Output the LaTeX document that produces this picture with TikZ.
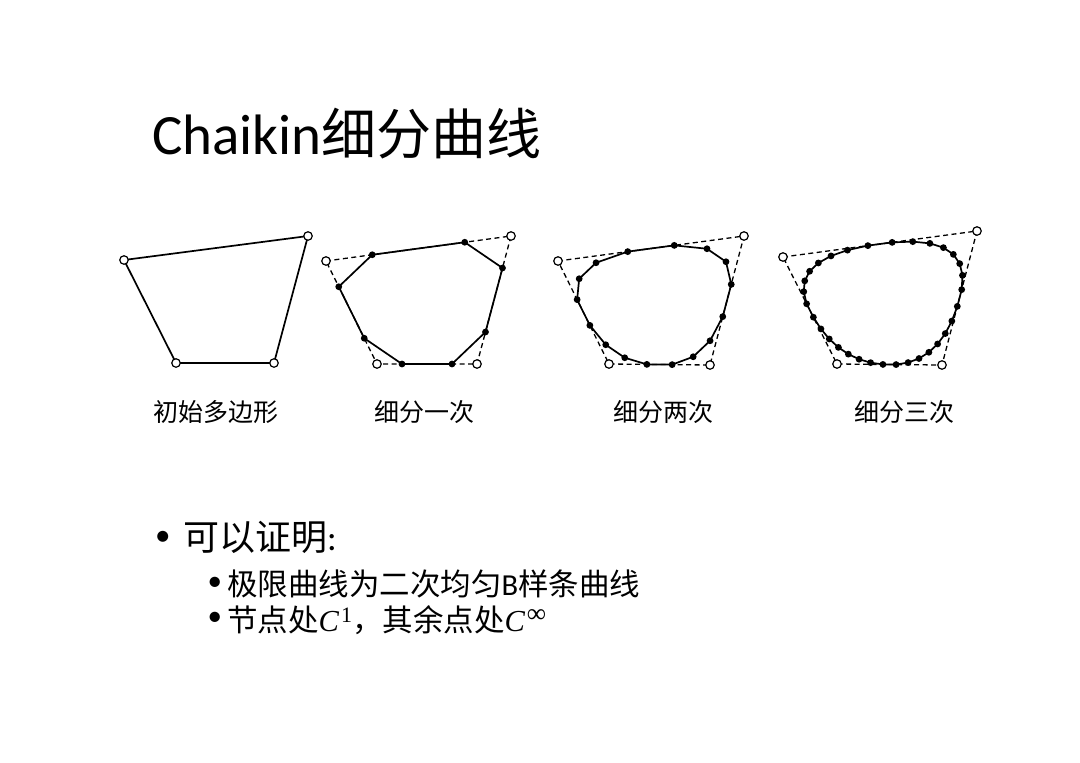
\documentclass[tikz,border=0pt]{standalone}
\usepackage{fontspec}
\setmainfont{Carlito}
\newfontfamily\cjk{Noto Sans CJK SC}
\newfontfamily\cmfont{Liberation Serif}
\usetikzlibrary{calc}

% one Chaikin corner-cutting step: #1 source prefix, #2 number of points, #3 target prefix
\newcommand\chaikinstep[3]{%
  \pgfmathtruncatemacro\chklast{#2-1}%
  \foreach \i in {0,...,\chklast}{%
    \pgfmathtruncatemacro\chkj{mod(\i+1,#2)}%
    \pgfmathtruncatemacro\chka{2*\i}%
    \pgfmathtruncatemacro\chkb{2*\i+1}%
    \coordinate (#3-\chka) at ($(#1-\i)!0.25!(#1-\chkj)$);
    \coordinate (#3-\chkb) at ($(#1-\i)!0.75!(#1-\chkj)$);
  }%
}
\newcommand\mathC[2]{{\cmfont\itshape C}\kern2pt\raisebox{9pt}{\cmfont\fontsize{#2}{24}\selectfont #1}}

\tikzset{
  ctrlpt/.style={circle,draw,fill=white,line width=1.2pt,minimum size=8.5pt,inner sep=0pt},
  dotpt/.style={circle,fill=black,minimum size=6.8pt,inner sep=0pt},
  curveline/.style={line width=1.7pt,line join=round},
  ctrlpoly/.style={line width=1.3pt,dash pattern=on 5pt off 3.5pt},
  caption/.style={font=\cjk\fontsize{25}{30}\selectfont,inner sep=0pt},
  textline/.style={anchor=base west,inner sep=0pt},
}

\begin{document}
\begin{tikzpicture}[x=1pt,y=-1pt]
\useasboundingbox[fill=white] (0,0) rectangle (1080,763);

% ---------- title ----------
\node[textline,font=\fontsize{57}{62}\selectfont] (title) at (152,154) {Chaikin{\cjk\fontsize{55}{60}\selectfont 细分曲线}};

% ---------- polygon 1: initial ----------
\coordinate (A-0) at (124,260);
\coordinate (A-1) at (308,236);
\coordinate (A-2) at (274,363);
\coordinate (A-3) at (176,363);
\draw[curveline] (A-0) -- (A-1) -- (A-2) -- (A-3) -- cycle;
\foreach \k in {0,...,3} \node[ctrlpt] (a-\k) at (A-\k) {};

% ---------- polygon 2: one step ----------
\coordinate (B-0) at (326,261);
\coordinate (B-1) at (511,236);
\coordinate (B-2) at (477,364);
\coordinate (B-3) at (377,364);
\chaikinstep{B}{4}{Ba}
\draw[ctrlpoly] (B-0) -- (B-1) -- (B-2) -- (B-3) -- cycle;
\draw[curveline] (Ba-0) \foreach \k in {1,...,7}{ -- (Ba-\k)} -- cycle;
\foreach \k in {0,...,7} \node[dotpt] (ba-\k) at (Ba-\k) {};
\foreach \k in {0,...,3} \node[ctrlpt] (b-\k) at (B-\k) {};

% ---------- polygon 3: two steps ----------
\coordinate (C-0) at (558,261);
\coordinate (C-1) at (744,236);
\coordinate (C-2) at (710,365);
\coordinate (C-3) at (609,364);
\chaikinstep{C}{4}{Ca}
\chaikinstep{Ca}{8}{Cb}
\draw[ctrlpoly] (C-0) -- (C-1) -- (C-2) -- (C-3) -- cycle;
\draw[curveline] (Cb-0) \foreach \k in {1,...,15}{ -- (Cb-\k)} -- cycle;
\foreach \k in {0,...,15} \node[dotpt] (cb-\k) at (Cb-\k) {};
\foreach \k in {0,...,3} \node[ctrlpt] (c-\k) at (C-\k) {};

% ---------- polygon 4: three steps ----------
\coordinate (D-0) at (783,257);
\coordinate (D-1) at (977,231);
\coordinate (D-2) at (942,365);
\coordinate (D-3) at (837,364);
\chaikinstep{D}{4}{Da}
\chaikinstep{Da}{8}{Db}
\chaikinstep{Db}{16}{Dc}
\draw[ctrlpoly] (D-0) -- (D-1) -- (D-2) -- (D-3) -- cycle;
\draw[curveline] (Dc-0) \foreach \k in {1,...,31}{ -- (Dc-\k)} -- cycle;
\foreach \k in {0,...,31} \node[dotpt] (dc-\k) at (Dc-\k) {};
\foreach \k in {0,...,3} \node[ctrlpt] (d-\k) at (D-\k) {};

% ---------- captions ----------
\node[caption] (cap1) at (216,412) {初始多边形};
\node[caption] (cap2) at (424,412) {细分一次};
\node[caption] (cap3) at (663,412) {细分两次};
\node[caption] (cap4) at (904,412) {细分三次};

% ---------- bullets ----------
\node[textline,font=\fontsize{31}{34}\selectfont] (bul1) at (155,545) {•};
\node[textline,font=\fontsize{36}{40}\selectfont] (txt1) at (183,550) {{\cjk 可以证明}:};
\node[textline,font=\fontsize{29}{34}\selectfont] (bul2) at (207.5,590) {•};
\node[textline,font=\fontsize{30.5}{36}\selectfont] (txt2) at (227,595) {{\cjk 极限曲线为二次均匀}B{\cjk 样条曲线}};
\node[textline,font=\fontsize{29}{34}\selectfont] (bul3) at (207.5,625) {•};
\node[textline,font=\fontsize{30.5}{36}\selectfont] (txt3) at (227,631) {{\cjk 节点处}\mathC{1}{22}{\cjk ，其余点处}\mathC{∞}{27}};
\end{tikzpicture}
\end{document}
